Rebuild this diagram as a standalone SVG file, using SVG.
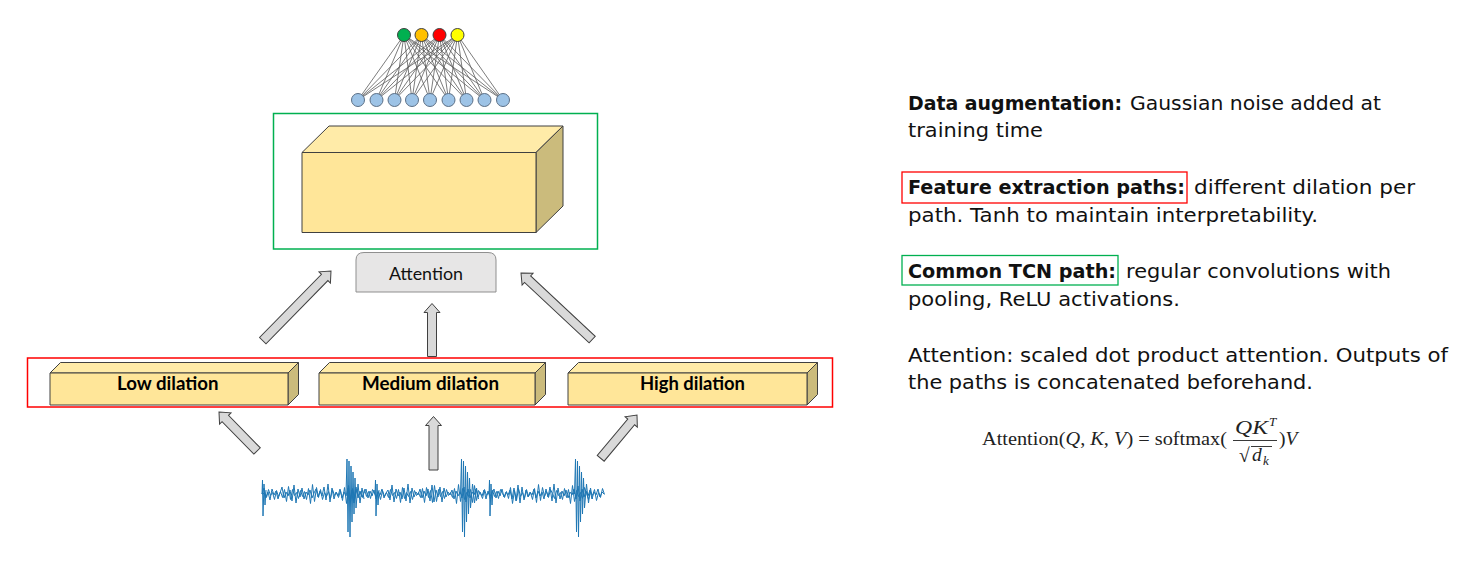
<svg xmlns="http://www.w3.org/2000/svg" xmlns:xlink="http://www.w3.org/1999/xlink" width="1466" height="572" viewBox="0 0 1466 572">
<style>
.face{stroke:#404040;stroke-width:1;stroke-linejoin:round}
.front{fill:#ffe699}
.top{fill:#ffeba8}
.side{fill:#cbbb7c}
.arrow{fill:#d9d9d9;stroke:#404040;stroke-width:1;stroke-linejoin:miter}
.lbl{font-family:Lato,"Open Sans",sans-serif;font-weight:bold;font-size:18px;fill:#000}
.b{font-family:"DejaVu Sans",sans-serif;font-weight:bold;font-size:19.5px;fill:#111}
.r{font-family:"DejaVu Sans",sans-serif;font-size:19.5px;fill:#111}
.m{font-family:"Liberation Serif",serif;font-size:19.5px;fill:#222}
.it{font-style:italic}
.nn line{stroke:#5a5a5a;stroke-width:0.8}
.sig{fill:none;stroke:#1f77b4;stroke-width:1;stroke-linejoin:round}
</style>
<defs>
<path id="bigspike" d="M0,0 L1,-35 L2,38 L3,-33 L4,43 L5,-28 L6,28 L7,-22 L8,20 L9,-16 L10,14 L12,-10 L14,9 L16,-6 L18,5"/>
<path id="midspike" d="M0,0 L0.5,-14 L1,22 L2,-10 L3,11 L4,-4"/>
</defs>
<rect width="1466" height="572" fill="#fff"/>

<g id="output-layer" class="nn">
<line x1="404" y1="35" x2="358" y2="100"/><line x1="404" y1="35" x2="376.5" y2="100"/><line x1="404" y1="35" x2="394.5" y2="100"/><line x1="404" y1="35" x2="412" y2="100"/><line x1="404" y1="35" x2="430" y2="100"/><line x1="404" y1="35" x2="448.5" y2="100"/><line x1="404" y1="35" x2="466.5" y2="100"/><line x1="404" y1="35" x2="484.5" y2="100"/><line x1="404" y1="35" x2="503" y2="100"/>
<line x1="421.5" y1="35" x2="358" y2="100"/><line x1="421.5" y1="35" x2="376.5" y2="100"/><line x1="421.5" y1="35" x2="394.5" y2="100"/><line x1="421.5" y1="35" x2="412" y2="100"/><line x1="421.5" y1="35" x2="430" y2="100"/><line x1="421.5" y1="35" x2="448.5" y2="100"/><line x1="421.5" y1="35" x2="466.5" y2="100"/><line x1="421.5" y1="35" x2="484.5" y2="100"/><line x1="421.5" y1="35" x2="503" y2="100"/>
<line x1="439.5" y1="35" x2="358" y2="100"/><line x1="439.5" y1="35" x2="376.5" y2="100"/><line x1="439.5" y1="35" x2="394.5" y2="100"/><line x1="439.5" y1="35" x2="412" y2="100"/><line x1="439.5" y1="35" x2="430" y2="100"/><line x1="439.5" y1="35" x2="448.5" y2="100"/><line x1="439.5" y1="35" x2="466.5" y2="100"/><line x1="439.5" y1="35" x2="484.5" y2="100"/><line x1="439.5" y1="35" x2="503" y2="100"/>
<line x1="457.5" y1="35" x2="358" y2="100"/><line x1="457.5" y1="35" x2="376.5" y2="100"/><line x1="457.5" y1="35" x2="394.5" y2="100"/><line x1="457.5" y1="35" x2="412" y2="100"/><line x1="457.5" y1="35" x2="430" y2="100"/><line x1="457.5" y1="35" x2="448.5" y2="100"/><line x1="457.5" y1="35" x2="466.5" y2="100"/><line x1="457.5" y1="35" x2="484.5" y2="100"/><line x1="457.5" y1="35" x2="503" y2="100"/>
<g stroke="#404040" stroke-width="1">
<circle cx="404" cy="35" r="6.5" fill="#00b050"/>
<circle cx="421.5" cy="35" r="6.5" fill="#ffc000"/>
<circle cx="439.5" cy="35" r="6.5" fill="#ff0000"/>
<circle cx="457.5" cy="35" r="6.5" fill="#ffff00"/>
</g>
<g stroke="#5b6f86" stroke-width="1" fill="#9dc3e6">
<circle cx="358" cy="100" r="6.5"/><circle cx="376.5" cy="100" r="6.5"/><circle cx="394.5" cy="100" r="6.5"/><circle cx="412" cy="100" r="6.5"/><circle cx="430" cy="100" r="6.5"/><circle cx="448.5" cy="100" r="6.5"/><circle cx="466.5" cy="100" r="6.5"/><circle cx="484.5" cy="100" r="6.5"/><circle cx="503" cy="100" r="6.5"/>
</g>
</g>

<g id="common-tcn">
<rect x="273.5" y="113.5" width="324" height="135.5" fill="none" stroke="#00b050" stroke-width="1.5"/>
<polygon class="face top" points="302,152.5 329,126 563,126 536,152.5"/>
<polygon class="face side" points="536,152.5 563,126 563,206 536,232.5"/>
<rect class="face front" x="302" y="152.5" width="234" height="80"/>
</g>

<g id="attention">
<path d="M356,292 L356,260 Q356,252.5 364,252.5 L488,252.5 Q496,252.5 496,260 L496,292 Z" fill="#e7e6e6" stroke="#8f8f8f" stroke-width="1"/>
<text x="389" y="279.5" textLength="74" lengthAdjust="spacingAndGlyphs" style="font-family:Lato,'Open Sans',sans-serif;font-size:18px;fill:#111">Attention</text>
</g>

<g id="feature-paths">
<rect x="27.5" y="358" width="805" height="49" fill="none" stroke="#ff0000" stroke-width="1.5"/>
</g>

<g id="low-dilation">
<polygon class="face top" points="50,373 60.5,362.5 298.5,362.5 288,373"/>
<polygon class="face side" points="288,373 298.5,362.5 298.5,394.5 288,405"/>
<rect class="face front" x="50" y="373" width="238" height="32"/>
<text class="lbl" x="117" y="390" textLength="101.5" lengthAdjust="spacingAndGlyphs">Low dilation</text>
</g>

<g id="medium-dilation">
<polygon class="face top" points="319,373 329.5,362.5 545.5,362.5 535,373"/>
<polygon class="face side" points="535,373 545.5,362.5 545.5,394.5 535,405"/>
<rect class="face front" x="319" y="373" width="216" height="32"/>
<text class="lbl" x="362" y="390" textLength="137" lengthAdjust="spacingAndGlyphs">Medium dilation</text>
</g>

<g id="high-dilation">
<polygon class="face top" points="568,373 578.5,362.5 817.5,362.5 807,373"/>
<polygon class="face side" points="807,373 817.5,362.5 817.5,394.5 807,405"/>
<rect class="face front" x="568" y="373" width="239" height="32"/>
<text class="lbl" x="640" y="390" textLength="105" lengthAdjust="spacingAndGlyphs">High dilation</text>
</g>

<g id="signal">
<polyline id="noise" class="sig" points="262,494 264,488 266,497 268,492 270,500 272,489 274,495 276,491 278,499 280,493 282,487 284,498 286,492 288,496 290,490 292,501 294,485 296,503 298,489 300,497 302,488 304,499 306,492 308,495 310,490 312,498 314,493 316,489 318,497 320,491 322,496 324,487 326,500 328,484 330,502 332,488 334,499 336,492 338,496 340,489 342,498 344,492 346,496 348,488 350,500 352,490 354,503 356,487 358,498 360,491 362,497 364,493 366,489 368,498 370,491 372,496 374,490 376,499 378,492 380,495 382,489 384,498 386,493 388,490 390,500 392,485 394,502 396,489 398,496 400,492 402,499 404,488 406,501 408,484 410,503 412,488 414,497 416,492 418,495 420,489 422,498 424,491 426,496 428,489 430,501 432,485 434,502 436,490 438,497 440,487 442,502 444,488 446,497 448,492 450,495 452,490 454,499 456,491 458,496 460,492 462,498 464,487 466,502 468,489 470,498 472,492 474,495 476,489 478,497 480,492 482,496 484,490 486,499 488,491 490,496 492,493 494,489 496,498 498,491 500,496 502,489 504,497 506,492 508,495 510,490 512,499 514,488 516,501 518,485 520,503 522,487 524,500 526,490 528,497 530,492 532,495 534,489 536,498 538,491 540,496 542,492 544,499 546,489 548,497 550,487 552,501 554,484 556,503 558,488 560,499 562,491 564,496 566,490 568,498 570,492 572,495 574,489 576,499 578,486 580,501 582,489 584,497 586,491 588,496 590,490 592,499 594,492 596,495 598,489 600,497 602,492 604,494"/>
<use xlink:href="#noise" href="#noise" transform="translate(866.5,0.5) scale(-1,1)" style="stroke-width:0.8"/>
<use class="sig" xlink:href="#midspike" href="#midspike" transform="translate(262,494)"/>
<use class="sig" xlink:href="#bigspike" href="#bigspike" transform="translate(346,494)"/>
<use class="sig" xlink:href="#midspike" href="#midspike" transform="translate(375,494)"/>
<use class="sig" xlink:href="#bigspike" href="#bigspike" transform="translate(460.5,494)"/>
<use class="sig" xlink:href="#midspike" href="#midspike" transform="translate(489,494)"/>
<use class="sig" xlink:href="#bigspike" href="#bigspike" transform="translate(574.5,494)"/>
</g>

<g id="connectors">
<path class="arrow" transform="translate(331,271) rotate(44.4)" d="M0,0 L8,9 L4.5,9 L4.5,97.5 L-4.5,97.5 L-4.5,9 L-8,9 Z"/>
<path class="arrow" transform="translate(432,303.5)" d="M0,0 L8,9 L4.5,9 L4.5,53 L-4.5,53 L-4.5,9 L-8,9 Z"/>
<path class="arrow" transform="translate(521,273) rotate(-46.9)" d="M0,0 L8,9 L4.5,9 L4.5,97.5 L-4.5,97.5 L-4.5,9 L-8,9 Z"/>
<path class="arrow" transform="translate(219,412) rotate(-44.3)" d="M0,0 L8,9 L4.5,9 L4.5,54.5 L-4.5,54.5 L-4.5,9 L-8,9 Z"/>
<path class="arrow" transform="translate(433.5,416.5)" d="M0,0 L8,9 L4.5,9 L4.5,53.5 L-4.5,53.5 L-4.5,9 L-8,9 Z"/>
<path class="arrow" transform="translate(637,415) rotate(40)" d="M0,0 L8,9 L4.5,9 L4.5,56.5 L-4.5,56.5 L-4.5,9 L-8,9 Z"/>
</g>

<g id="notes">
<text class="b" x="908" y="109.5" textLength="214" lengthAdjust="spacingAndGlyphs">Data augmentation:</text>
<text class="r" x="1130" y="109.5" textLength="251" lengthAdjust="spacingAndGlyphs">Gaussian noise added at</text>
<text class="r" x="908" y="137" textLength="135" lengthAdjust="spacingAndGlyphs">training time</text>
<rect x="902" y="172" width="285" height="31" fill="none" stroke="#ff0000" stroke-width="1.3"/>
<text class="b" x="908" y="193.5" textLength="277" lengthAdjust="spacingAndGlyphs">Feature extraction paths:</text>
<text class="r" x="1194" y="193.5" textLength="221" lengthAdjust="spacingAndGlyphs">different dilation per</text>
<text class="r" x="908" y="221.5" textLength="410" lengthAdjust="spacingAndGlyphs">path. Tanh to maintain interpretability.</text>
<rect x="902" y="255.5" width="216" height="29.5" fill="none" stroke="#00b050" stroke-width="1.3"/>
<text class="b" x="908" y="277.5" textLength="208" lengthAdjust="spacingAndGlyphs">Common TCN path:</text>
<text class="r" x="1126" y="277.5" textLength="265" lengthAdjust="spacingAndGlyphs">regular convolutions with</text>
<text class="r" x="908" y="305.5" textLength="272" lengthAdjust="spacingAndGlyphs">pooling, ReLU activations.</text>
<text class="r" x="908" y="361.5" textLength="540" lengthAdjust="spacingAndGlyphs">Attention: scaled dot product attention. Outputs of</text>
<text class="r" x="908" y="389" textLength="405" lengthAdjust="spacingAndGlyphs">the paths is concatenated beforehand.</text>
</g>

<g id="formula">
<text class="m" x="982" y="445" textLength="245" lengthAdjust="spacingAndGlyphs">Attention(<tspan class="it">Q</tspan>, <tspan class="it">K</tspan>, <tspan class="it">V</tspan>) = softmax(</text>
<text class="m it" x="1235" y="434" textLength="33" lengthAdjust="spacingAndGlyphs">QK</text>
<text class="m it" x="1269" y="426" style="font-size:13px">T</text>
<line x1="1233" y1="440.5" x2="1277" y2="440.5" stroke="#222" stroke-width="0.9"/>
<text class="m" x="1239" y="462">√</text>
<line x1="1251" y1="446.5" x2="1272" y2="446.5" stroke="#222" stroke-width="0.9"/>
<text class="m it" x="1252" y="461">d</text>
<text class="m it" x="1263" y="465" style="font-size:13px">k</text>
<text class="m" x="1279" y="445">)<tspan class="it">V</tspan></text>
</g>
</svg>
